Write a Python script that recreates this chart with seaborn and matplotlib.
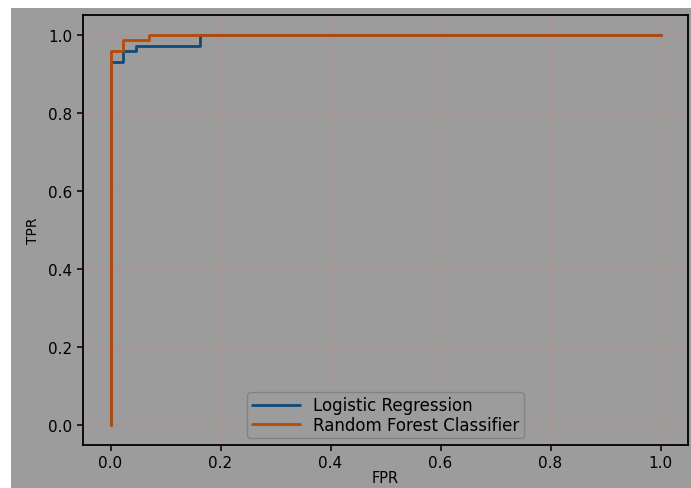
import matplotlib
matplotlib.use("Agg")
import matplotlib.pyplot as plt
import seaborn as sns
import pandas as pd
from matplotlib.patches import Rectangle

# ROC curve corner points
lr_fpr = [0.0, 0.0, 0.0233, 0.0233, 0.0465, 0.0465, 0.1628, 0.1628, 1.0]
lr_tpr = [0.0, 0.9296, 0.9296, 0.9577, 0.9577, 0.9718, 0.9718, 1.0, 1.0]
rf_fpr = [0.0, 0.0, 0.0233, 0.0233, 0.0698, 0.0698, 1.0]
rf_tpr = [0.0, 0.9577, 0.9577, 0.9859, 0.9859, 1.0, 1.0]
labels = ["Logistic Regression", "Random Forest Classifier"]
xticks = [0.0, 0.2, 0.4, 0.6, 0.8, 1.0]
yticks = [0.0, 0.2, 0.4, 0.6, 0.8, 1.0]

sns.set_style("ticks")
plt.rcParams['font.family'] = ['DejaVu Sans']

gray = "#9c9c9c"
fig = plt.figure(figsize=(6.91, 4.89), dpi=100)
fig.patch.set_facecolor("white")
fig.patches.append(Rectangle((11/691, 0), 1 - 11/691, 1 - 9/489,
                             transform=fig.transFigure, facecolor=gray,
                             edgecolor="none", zorder=-10))
ax = fig.add_axes([83/691, 1 - 446/489, (688 - 83)/691, (446 - 16)/489])
ax.set_facecolor(gray)

df = pd.concat([
    pd.DataFrame({"FPR": lr_fpr, "TPR": lr_tpr, "model": labels[0], "order": range(len(lr_fpr))}),
    pd.DataFrame({"FPR": rf_fpr, "TPR": rf_tpr, "model": labels[1], "order": range(len(rf_fpr))}),
], ignore_index=True)

palette = {labels[0]: "#0f4b7d", labels[1]: "#b84a06"}
sns.lineplot(data=df, x="FPR", y="TPR", hue="model", units="model", estimator=None,
             sort=False, palette=palette, linewidth=2.0, ax=ax)

ax.set_xticks(xticks)
ax.set_yticks(yticks)
ax.grid(True, color="#c28a8a", alpha=1.0, linestyle="-", linewidth=1.0)
ax.set_axisbelow(True)
for s in ax.spines.values():
    s.set_color("black")
    s.set_linewidth(1.3)
ax.tick_params(colors="black", labelcolor="black", labelsize=11, length=4, width=1.1)
ax.set_xlabel("FPR", fontsize=10.5, color="black", labelpad=0)
ax.set_ylabel("TPR", fontsize=10, color="black", labelpad=6)

leg = ax.legend(loc="lower center", fontsize=12, frameon=True,
                handlelength=2.9, borderaxespad=0.4, borderpad=0.25,
                labelspacing=0.1)
leg.get_frame().set_facecolor(gray)
leg.get_frame().set_edgecolor("#808080")
leg.get_frame().set_alpha(0.9)
for t in leg.get_texts():
    t.set_color("black")

fig.savefig("out.png", dpi=100, facecolor=fig.get_facecolor())
